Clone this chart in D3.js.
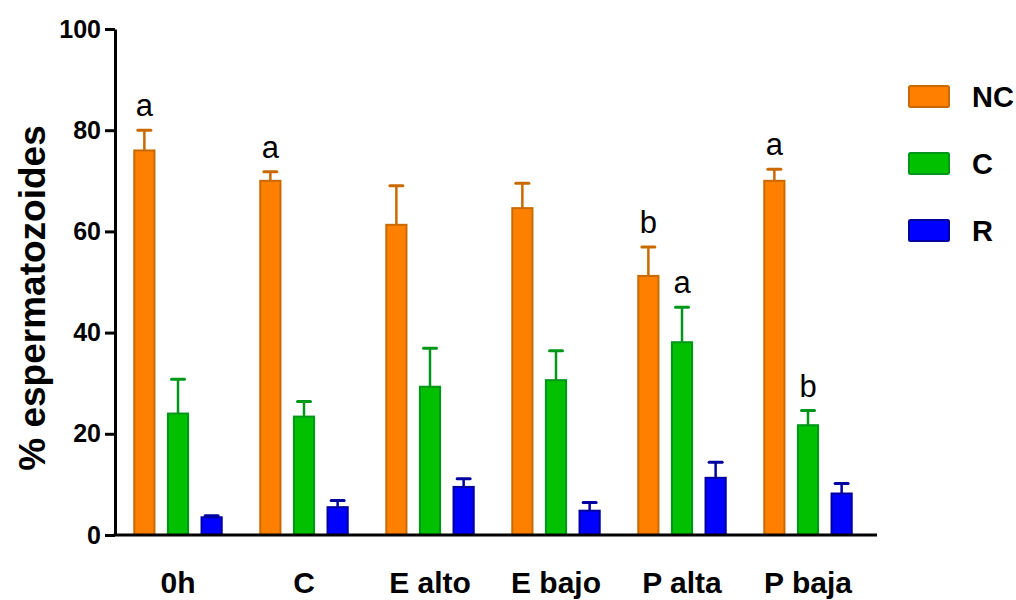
<!DOCTYPE html>
<html>
<head>
<meta charset="utf-8">
<script src="https://cdn.jsdelivr.net/npm/d3@7"></script>
<style>
  html, body { margin: 0; padding: 0; background: #fff; }
  svg { display: block; font-family: Arial, "Liberation Sans", sans-serif; }
</style>
</head>
<body>
<svg id="chart" width="1016" height="600"></svg>
<script>
// Treatment groups along the x axis
const categories = ["0h", "C", "E alto", "E bajo", "P alta", "P baja"];
// Series shown in each group
const seriesNames = ["NC", "C", "R"];
// Mean percentage of spermatozoa per series
const ncValues = [76.0, 70.0, 61.3, 64.6, 51.2, 70.0];
const cValues  = [24.0, 23.4, 29.3, 30.6, 38.1, 21.7];
const rValues  = [3.5, 5.5, 9.5, 4.8, 11.3, 8.2];
// Upper error (SEM) per series
const ncErrors = [4.0, 1.8, 7.7, 4.9, 5.7, 2.3];
const cErrors  = [6.8, 3.0, 7.6, 5.8, 6.9, 2.9];
const rErrors  = [0.3, 1.3, 1.6, 1.6, 3.1, 2.0];
// Significance letters per series
const ncLetters = ["a", "a", "", "", "b", "a"];
const cLetters  = ["", "", "", "", "a", "b"];
const rLetters  = ["", "", "", "", "", ""];
// Y axis ticks
const yTicks = [0, 20, 40, 60, 80, 100];

const fills   = { NC: "#FF8000", C: "#00C000", R: "#0000FF" };
const strokes = { NC: "#C96A00", C: "#00961A", R: "#0000A0" };

const valuesBySeries  = { NC: ncValues, C: cValues, R: rValues };
const errorsBySeries  = { NC: ncErrors, C: cErrors, R: rErrors };
const lettersBySeries = { NC: ncLetters, C: cLetters, R: rLetters };

const svg = d3.select("#chart");

const y = d3.scaleLinear().domain([0, 100]).range([535, 29]);
const x0 = d3.scaleBand().domain(categories).range([115, 871])
  .paddingInner(0.29).paddingOuter(0.145);
const x1 = d3.scaleBand().domain(seriesNames).range([0, x0.bandwidth()])
  .paddingInner(0.34).paddingOuter(0);

// Flatten into one record per bar
const records = [];
categories.forEach((cat, i) => {
  seriesNames.forEach(s => {
    records.push({
      cat, series: s,
      value: valuesBySeries[s][i],
      err: errorsBySeries[s][i],
      letter: lettersBySeries[s][i]
    });
  });
});

const plot = svg.append("g");

// Error bars (upper only), drawn behind the bars
const capHalf = 6.5;
const eb = plot.append("g").selectAll("g").data(records).join("g");
eb.append("line")
  .attr("x1", d => x0(d.cat) + x1(d.series) + x1.bandwidth() / 2)
  .attr("x2", d => x0(d.cat) + x1(d.series) + x1.bandwidth() / 2)
  .attr("y1", d => y(d.value))
  .attr("y2", d => y(d.value + d.err))
  .attr("stroke", d => strokes[d.series])
  .attr("stroke-width", 2.5);
eb.append("line")
  .attr("x1", d => x0(d.cat) + x1(d.series) + x1.bandwidth() / 2 - capHalf)
  .attr("x2", d => x0(d.cat) + x1(d.series) + x1.bandwidth() / 2 + capHalf)
  .attr("y1", d => y(d.value + d.err))
  .attr("y2", d => y(d.value + d.err))
  .attr("stroke", d => strokes[d.series])
  .attr("stroke-width", 3)
  .attr("stroke-linecap", "round");

// Bars
plot.append("g").selectAll("rect").data(records).join("rect")
  .attr("x", d => x0(d.cat) + x1(d.series) + 1)
  .attr("y", d => y(d.value))
  .attr("width", x1.bandwidth() - 2)
  .attr("height", d => y(0) - y(d.value))
  .attr("fill", d => fills[d.series])
  .attr("stroke", d => strokes[d.series])
  .attr("stroke-width", 2);

// Significance letters above error caps
plot.append("g").selectAll("text").data(records.filter(d => d.letter)).join("text")
  .attr("x", d => x0(d.cat) + x1(d.series) + x1.bandwidth() / 2)
  .attr("y", d => y(d.value + d.err) - 14)
  .attr("text-anchor", "middle")
  .attr("font-size", 31)
  .attr("fill", "#000")
  .text(d => d.letter);

// Y axis
const yAxis = svg.append("g")
  .attr("transform", `translate(${x0.range()[0]},0)`)
  .call(d3.axisLeft(y).tickValues(yTicks).tickSize(10).tickPadding(4).tickSizeOuter(0));
yAxis.select(".domain").attr("stroke", "#000").attr("stroke-width", 3);
yAxis.selectAll(".tick line").attr("stroke", "#000").attr("stroke-width", 3);
yAxis.selectAll(".tick text")
  .attr("font-size", 25).attr("font-weight", "bold").attr("fill", "#000")
  .attr("font-family", "Arial, 'Liberation Sans', sans-serif");

// X axis
const xAxis = svg.append("g")
  .attr("transform", `translate(0,${y(0)})`)
  .call(d3.axisBottom(x0).tickSize(0).tickPadding(37).tickSizeOuter(0));
xAxis.select(".domain").attr("stroke", "#000").attr("stroke-width", 3)
  .attr("d", `M${x0.range()[0] - 1.5},0H${x0.range()[1] + 6}`);
xAxis.selectAll(".tick text")
  .attr("font-size", 30).attr("font-weight", "bold").attr("fill", "#000")
  .attr("font-family", "Arial, 'Liberation Sans', sans-serif");

// Y axis title
svg.append("text")
  .attr("transform", `translate(45,${(y(0) + y(100)) / 2 + 16}) rotate(-90)`)
  .attr("text-anchor", "middle")
  .attr("font-size", 37)
  .attr("font-weight", "bold")
  .attr("fill", "#000")
  .text("% espermatozoides");

// Legend
const legend = svg.append("g").attr("transform", "translate(908,85)");
const li = legend.selectAll("g").data(seriesNames).join("g")
  .attr("transform", (d, i) => `translate(0,${i * 67})`);
li.append("rect")
  .attr("x", 1).attr("y", 1)
  .attr("width", 40).attr("height", 21)
  .attr("rx", 1.5)
  .attr("fill", d => fills[d])
  .attr("stroke", d => strokes[d])
  .attr("stroke-width", 2);
li.append("text")
  .attr("x", 64).attr("y", 11.5)
  .attr("dy", "0.36em")
  .attr("font-size", 29)
  .attr("font-weight", "bold")
  .attr("fill", "#000")
  .text(d => d);
</script>
</body>
</html>
